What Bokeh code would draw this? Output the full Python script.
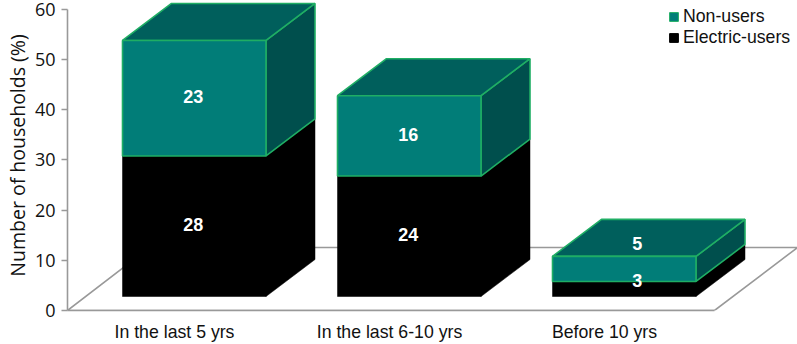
from bokeh.plotting import figure
from bokeh.models import Range1d, FixedTicker, Title
from bokeh.embed import file_html
from bokeh.resources import INLINE
from bokeh.core.properties import value

categories = ["In the last 5 yrs", "In the last 6-10 yrs", "Before 10 yrs"]
electric_users = [28, 24, 3]
non_users = [23, 16, 5]
y_ticks = [0, 10, 20, 30, 40, 50, 60]
y_title = "Number of households (%)"

W, H = 797, 344
LEFT, BOTTOM = 67, 34
PX = 5.02                      # pixels per percentage point
y_top = (H - BOTTOM) / PX
bar_left = [55, 270, 485]
bar_w = 143.5
dx, dy = 49, 37 / PX           # depth of a box
base = 14 / PX                 # front edge of boxes above the axis
label_x = [107, 322, 537]
lab_off_x = [-1, -1, 13]
lab_off_elec = [0, 0, 6.5 / PX]
lab_off_non = [0, 0, 23.5 / PX]

TEAL, TOP, SIDE, EDGE = "#017d78", "#005f5c", "#004f4d", "#1fae64"

p = figure(width=W, height=H, output_backend="svg", toolbar_location=None,
           x_range=Range1d(0, W - LEFT), y_range=Range1d(0, y_top),
           min_border_left=LEFT, min_border_right=0, min_border_top=0,
           min_border_bottom=BOTTOM, outline_line_color=None,
           margin=(0, 0, 0, 0))
p.grid.visible = False

# floor
floor_x = [0, 82, W - LEFT, 647, 0]
floor_y = [0, 63 / PX, 63 / PX, 0, 0]
p.line(floor_x, floor_y, line_color="#999999", line_width=1.6)

def box(x, b, t, face, top, side, edge):
    kw = dict(line_color=edge, line_width=1.6) if edge else dict(line_color=face, line_width=0.5)
    p.patch([x + bar_w, x + bar_w + dx, x + bar_w + dx, x + bar_w],
            [b, b + dy, t + dy, t], fill_color=side, **kw)
    p.patch([x, x + dx, x + bar_w + dx, x + bar_w],
            [t, t + dy, t + dy, t], fill_color=top, **kw)
    p.quad(left=x, right=x + bar_w, bottom=b, top=t, fill_color=face, **kw)

for i, x in enumerate(bar_left):
    mid = base + electric_users[i]
    box(x, base, mid, "#000000", "#000000", "#000000", None)
for i, x in enumerate(bar_left):
    mid = base + electric_users[i]
    end = mid + non_users[i]
    box(x, mid, end, TEAL, TOP, SIDE, EDGE)

lx, ly, lt = [], [], []
for i, x in enumerate(bar_left):
    mid = base + electric_users[i]
    lx += [x + bar_w / 2 + lab_off_x[i]] * 2
    ly += [base + electric_users[i] / 2 + lab_off_elec[i], mid + non_users[i] / 2 + lab_off_non[i]]
    lt += [str(electric_users[i]), str(non_users[i])]
p.text(lx, ly, text=lt, text_color="white", text_font=value("Liberation Sans"),
       text_font_style="bold", text_font_size="18px", text_align="center", text_baseline="middle",
       y_offset=-1.5)

# legend
r1 = p.quad(left=[0], right=[0], bottom=[0], top=[0], fill_color=TEAL, line_color=EDGE, legend_label="Non-users")
r2 = p.quad(left=[0], right=[0], bottom=[0], top=[0], fill_color="#000000", line_color="#000000", legend_label="Electric-users")
lg = p.legend[0]
lg.location = (601, 262)
lg.background_fill_alpha = 0
lg.border_line_color = None
lg.glyph_width = 11
lg.glyph_height = 11
lg.label_standoff = 4
lg.spacing = 0
lg.margin = 0
lg.padding = 0
lg.label_text_font = "Liberation Sans"
lg.label_text_font_size = "17.7px"
lg.label_text_color = "#111111"
lg.label_height = 19

# axes
ya = p.yaxis[0]
ya.ticker = FixedTicker(ticks=y_ticks)
ya.bounds = (0, 60)
ya.axis_line_color = "#999999"
ya.axis_line_width = 1.6
ya.major_tick_line_color = "#999999"
ya.major_tick_line_width = 1.6
ya.major_tick_in = 0
ya.major_tick_out = 6
ya.minor_tick_line_color = None
ya.major_label_text_font = "Open Sans"
ya.major_label_text_font_size = "18px"
ya.major_label_text_color = "#111111"
ya.major_label_standoff = 6

p.add_layout(Title(text=y_title, align="center", offset=4, standoff=2, text_font="Open Sans",
                   text_font_size="19.5px", text_font_style="normal", text_color="#111111"), "left")

xa = p.xaxis[0]
xa.ticker = FixedTicker(ticks=label_x)
xa.major_label_overrides = dict(zip(label_x, categories))
xa.bounds = (0, 647)
xa.axis_line_color = "#999999"
xa.axis_line_width = 1.6
xa.major_tick_line_color = None
xa.minor_tick_line_color = None
xa.major_label_text_font = "Liberation Sans"
xa.major_label_text_font_size = "17.7px"
xa.major_label_text_color = "#111111"
xa.major_label_standoff = 5

open("out.html", "w").write(file_html(p, INLINE))
